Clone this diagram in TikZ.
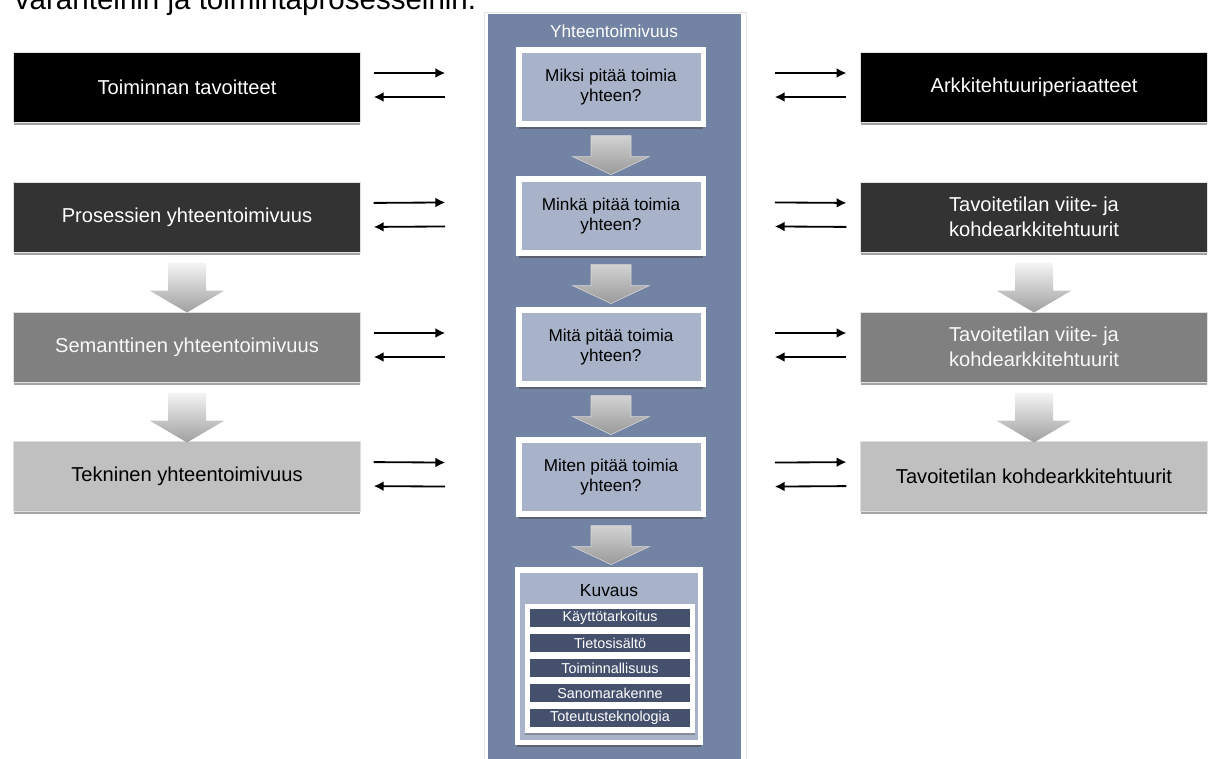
\documentclass[tikz,border=0pt]{standalone}
\usepackage{fontspec}
\setmainfont{Liberation Sans}
\usepackage{tikz}
\usetikzlibrary{arrows.meta, positioning, calc, shadows}
\usepackage{xcolor}

\definecolor{colbg}{RGB}{115,131,163}
\definecolor{boxbg}{RGB}{168,179,201}
\definecolor{barbg}{RGB}{69,80,109}
\definecolor{lvltwo}{RGB}{51,51,51}
\definecolor{lvlthree}{RGB}{128,128,128}
\definecolor{lvlfour}{RGB}{192,192,192}

\tikzset{
	pics/sidearrow/.style={code={
		\shade[top color=gray!8, bottom color=gray!75]
			(-19,0) -- (19,0) -- (19,28) -- (37.5,28) -- (0,50) -- (-37.5,28) -- (-19,28) -- cycle;
	}},
	pics/midarrow/.style={code={
		\shade[top color=gray!35, bottom color=gray!80, draw=white!70!gray, line width=0.4pt]
			(-20,0) -- (20,0) -- (20,21) -- (38.5,21) -- (0,39) -- (-38.5,21) -- (-20,21) -- cycle;
	}}
}

\begin{document}
\begin{tikzpicture}[x=0.025cm, y=-0.025cm]
\tikzstyle{sidebox} = [
	shape=rectangle,
	draw=gray!25, %thin light frame
	line width=0.7pt,
	minimum width=8.65cm,
	minimum height=1.75cm,
	inner sep=2pt,
	align=center,
	font=\fontsize{14.3}{17.5}\selectfont,
	drop shadow={shadow xshift=0pt, shadow yshift=-2pt, fill=black!60, opacity=0.6}
];
\tikzstyle{midbox} = [
	shape=rectangle,
	draw=white, %wide white frame
	fill=boxbg,
	line width=3.6pt,
	minimum width=4.6cm,
	minimum height=1.85cm,
	inner sep=2pt,
	align=center,
	font=\fontsize{12.2}{14.5}\selectfont,
	drop shadow={shadow xshift=0pt, shadow yshift=-3.2pt, fill=black!70, opacity=0.6}
];
\tikzstyle{bar} = [
	shape=rectangle,
	fill=barbg,
	text=white,
	minimum width=4cm,
	minimum height=0.45cm,
	inner sep=0pt,
	font=\fontsize{10.2}{12}\selectfont
];
\tikzstyle{conn} = [draw, -{Latex[length=7pt,width=7pt]}, line width=1.3pt, color=black];
\tikzstyle{lgo} = [conn, shorten <=0.33cm, shorten >=1.78cm];
\tikzstyle{lback} = [conn, shorten <=1.78cm, shorten >=0.33cm];
\tikzstyle{rgo} = [conn, shorten <=1.73cm, shorten >=0.35cm];
\tikzstyle{rback} = [conn, shorten <=0.35cm, shorten >=1.73cm];

\useasboundingbox (0,0) rectangle (1216,758);
\clip (0,0) rectangle (1216,758);

%heading line, cut at the top
\node[anchor=base west, font=\fontsize{21}{25}\selectfont] (intro) at (10,9) {varanteihin ja toimintaprosesseihin.};

%middle column
\draw[gray!20, line width=0.5pt] (484,12) rectangle (746,770);
\path[fill=colbg] (488,14) rectangle (741,770);
\node[text=white, font=\fontsize{12.3}{14}\selectfont] (yt) at (614,31) {Yhteentoimivuus};

\node[midbox] (mi1) at (611,87) {Miksi pitää toimia\\yhteen?};
\node[midbox] (mi2) at (611,216) {Minkä pitää toimia\\yhteen?};
\node[midbox] (mi3) at (611,347) {Mitä pitää toimia\\yhteen?};
\node[midbox] (mi4) at (611,477) {Miten pitää toimia\\yhteen?};

\node[midbox, minimum width=4.575cm, minimum height=4.3cm] (kuv) at (609,656) {};
\node[font=\fontsize{12.4}{14}\selectfont] (kuvt) at (609,591) {Kuvaus};
\path[fill=white, drop shadow={shadow xshift=0pt, shadow yshift=-1.5pt, fill=black!60, opacity=0.5}]
	(525,604) rectangle (695,733);
\node[bar] (kt) at (610,618) {Käyttötarkoitus};
\node[bar, below=0.16cm of kt] (ts) {Tietosisältö};
\node[bar, below=0.16cm of ts] (tl) {Toiminnallisuus};
\node[bar, below=0.16cm of tl] (sr) {Sanomarakenne};
\node[bar, below=0.16cm of sr] (tt) {Toteutusteknologia};

\pic at ($(mi1.south)+(0,9)$) {midarrow};
\pic at ($(mi2.south)+(0,9)$) {midarrow};
\pic at ($(mi3.south)+(0,9)$) {midarrow};
\pic at ($(mi4.south)+(0,9)$) {midarrow};

%left column
\node[sidebox, fill=black, text=white] (tob) at (187,87) {Toiminnan tavoitteet};
\node[sidebox, fill=lvltwo, text=white] (prb) at (187,217) {Prosessien yhteentoimivuus};
\node[sidebox, fill=lvlthree, text=white!95!gray] (seb) at (187,347) {Semanttinen yhteentoimivuus};
\node[sidebox, fill=lvlfour, text=black] (teb) at (187,476) {Tekninen yhteentoimivuus};

\pic at ($(prb.south)+(0,10)$) {sidearrow};
\pic at ($(seb.south)+(0,10)$) {sidearrow};

%right column
\node[sidebox, fill=black, text=white] (arp) at (1034,87) {Arkkitehtuuriperiaatteet};
\node[sidebox, fill=lvltwo, text=white] (vk1) at (1034,217) {Tavoitetilan viite- ja\\kohdearkkitehtuurit};
\node[sidebox, fill=lvlthree, text=white!95!gray] (vk2) at (1034,347) {Tavoitetilan viite- ja\\kohdearkkitehtuurit};
\node[sidebox, fill=lvlfour, text=black] (kha) at (1034,476) {Tavoitetilan kohdearkkitehtuurit};

\pic at ($(vk1.south)+(0,10)$) {sidearrow};
\pic at ($(vk2.south)+(0,10)$) {sidearrow};

%links to the left column
\path
	([yshift=0.35cm]tob.east) edge[lgo] ([yshift=0.35cm]mi1.west)
	([yshift=-0.25cm]mi1.west) edge[lback] ([yshift=-0.25cm]tob.east)
	([yshift=0.35cm]prb.east) edge[lgo] ([yshift=0.35cm]mi2.west)
	([yshift=-0.25cm]mi2.west) edge[lback] ([yshift=-0.25cm]prb.east)
	([yshift=0.35cm]seb.east) edge[lgo] ([yshift=0.35cm]mi3.west)
	([yshift=-0.25cm]mi3.west) edge[lback] ([yshift=-0.25cm]seb.east)
	([yshift=0.35cm]teb.east) edge[lgo] ([yshift=0.35cm]mi4.west)
	([yshift=-0.25cm]mi4.west) edge[lback] ([yshift=-0.25cm]teb.east)
;

%links to the right column
\path
	([yshift=0.35cm]mi1.east) edge[rgo] ([yshift=0.35cm]arp.west)
	([yshift=-0.25cm]arp.west) edge[rback] ([yshift=-0.25cm]mi1.east)
	([yshift=0.35cm]mi2.east) edge[rgo] ([yshift=0.35cm]vk1.west)
	([yshift=-0.25cm]vk1.west) edge[rback] ([yshift=-0.25cm]mi2.east)
	([yshift=0.35cm]mi3.east) edge[rgo] ([yshift=0.35cm]vk2.west)
	([yshift=-0.25cm]vk2.west) edge[rback] ([yshift=-0.25cm]mi3.east)
	([yshift=0.35cm]mi4.east) edge[rgo] ([yshift=0.35cm]kha.west)
	([yshift=-0.25cm]kha.west) edge[rback] ([yshift=-0.25cm]mi4.east)
;
\end{tikzpicture}
\end{document}
